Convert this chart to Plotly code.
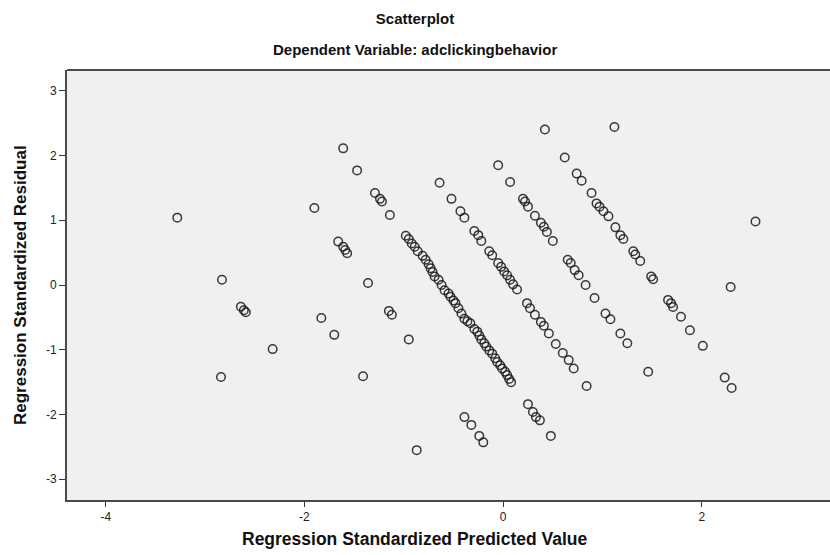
import plotly.graph_objects as go

# Regression standardized predicted values (x) and standardized residuals (y)
pred = [
    -3.28, -2.83, -2.84, -2.64, -2.61, -2.59, -2.32,
    -1.90, -1.83, -1.70, -1.41, -1.36,
    -1.66, -1.61, -1.59, -1.57,
    -1.61, -1.47, -1.29, -1.24, -1.22, -1.14,
    -0.98, -0.95, -0.92, -0.89, -0.86, -0.81, -0.78, -0.75, -0.73, -0.71, -0.69,
    -0.65, -0.62, -0.59, -0.55, -0.53, -0.50, -0.48, -0.45, -0.42, -0.39, -0.36, -0.33,
    -0.29, -0.26, -0.24, -0.22, -0.19, -0.17, -0.14, -0.11, -0.08, -0.06, -0.03, -0.01,
    0.02, 0.04, 0.06, 0.08,
    -1.15, -1.12, -0.95, -0.87,
    -0.39, -0.32, -0.24, -0.20,
    -0.64, -0.52, -0.43, -0.39, -0.29, -0.25, -0.22, -0.14, -0.11,
    -0.05, -0.02, 0.01, 0.04, 0.07, 0.10, 0.14,
    0.24, 0.27, 0.32, 0.38, 0.41, 0.46, 0.53, 0.60, 0.66, 0.71, 0.84,
    0.25, 0.30, 0.33, 0.37, 0.48,
    -0.05, 0.07, 0.20, 0.22, 0.25, 0.32, 0.38, 0.41, 0.44, 0.50,
    0.65, 0.68, 0.72, 0.76, 0.83, 0.92, 1.03, 1.08, 1.18, 1.25, 1.46,
    0.42, 0.62, 0.74, 0.79, 0.89, 0.94, 0.97, 1.01, 1.06, 1.13, 1.18, 1.21,
    1.31, 1.33, 1.38, 1.49, 1.51, 1.66, 1.69, 1.71, 1.79, 1.88, 2.01, 2.23, 2.30,
    1.12, 2.29, 2.54,
]
resid = [
    1.04, 0.08, -1.42, -0.335, -0.39, -0.42, -0.99,
    1.19, -0.51, -0.77, -1.41, 0.03,
    0.67, 0.59, 0.54, 0.49,
    2.11, 1.77, 1.42, 1.33, 1.29, 1.08,
    0.76, 0.71, 0.64, 0.59, 0.52, 0.45, 0.39, 0.32, 0.26, 0.20, 0.13,
    0.08, 0.00, -0.08, -0.13, -0.18, -0.24, -0.28, -0.36, -0.44, -0.52, -0.56, -0.59,
    -0.68, -0.72, -0.78, -0.84, -0.90, -0.95, -1.01, -1.06, -1.13, -1.19, -1.24, -1.29,
    -1.34, -1.39, -1.45, -1.50,
    -0.40, -0.46, -0.84, -2.55,
    -2.04, -2.16, -2.33, -2.43,
    1.58, 1.33, 1.14, 1.04, 0.835, 0.77, 0.68, 0.52, 0.46,
    0.34, 0.28, 0.21, 0.15, 0.08, 0.01, -0.07,
    -0.28, -0.36, -0.46, -0.57, -0.63, -0.75, -0.91, -1.05, -1.16, -1.29, -1.56,
    -1.84, -1.96, -2.04, -2.09, -2.33,
    1.85, 1.59, 1.33, 1.29, 1.21, 1.07, 0.96, 0.90, 0.82, 0.68,
    0.39, 0.34, 0.23, 0.15, 0.00, -0.20, -0.44, -0.53, -0.75, -0.90, -1.34,
    2.40, 1.97, 1.72, 1.61, 1.42, 1.26, 1.21, 1.14, 1.06, 0.89, 0.77, 0.71,
    0.52, 0.47, 0.37, 0.13, 0.09, -0.23, -0.28, -0.34, -0.49, -0.70, -0.94, -1.43, -1.59,
    2.44, -0.03, 0.98,
]

x_ticks = [-4, -2, 0, 2]
y_ticks = [-3, -2, -1, 0, 1, 2, 3]

FONT = "Liberation Sans, Arial, sans-serif"
AXIS_COLOR = "#4a4a4a"

W, H = 830, 555
L, R, T, B = 67, 0, 70, 55
PW, PH = W - L - R, H - T - B

fig = go.Figure(
    go.Scatter(
        x=pred,
        y=resid,
        mode="markers",
        marker=dict(
            symbol="circle-open",
            size=8.5,
            color="rgba(25,25,25,0.85)",
            line=dict(width=1.5),
        ),
        hoverinfo="x+y",
        showlegend=False,
    )
)

fig.update_layout(
    width=W,
    height=H,
    margin=dict(l=L, r=R, t=T, b=B),
    paper_bgcolor="white",
    plot_bgcolor="#f0f0f0",
    font=dict(family=FONT, color="#222222"),
    title=dict(
        text="<b>Scatterplot</b>",
        x=0.5,
        xref="container",
        xanchor="center",
        y=1 - 19 / H,
        yref="container",
        yanchor="middle",
        font=dict(size=15, family=FONT, color="#111111"),
    ),
    annotations=[
        dict(
            text="<b>Dependent Variable: adclickingbehavior</b>",
            xref="paper", yref="paper",
            x=(415 - L) / PW, y=1 + (T - 50) / PH,
            xanchor="center", yanchor="middle",
            showarrow=False,
            font=dict(size=15, family=FONT, color="#111111"),
        ),
        dict(
            text="<b>Regression Standardized Predicted Value</b>",
            xref="paper", yref="paper",
            x=(415 - L) / PW, y=-(539 - (T + PH)) / PH,
            xanchor="center", yanchor="middle",
            showarrow=False,
            font=dict(size=17.5, family=FONT, color="#111111"),
        ),
        dict(
            text="<b>Regression Standardized Residual</b>",
            xref="paper", yref="paper",
            x=(20 - L) / PW, y=0.5,
            xanchor="center", yanchor="middle",
            textangle=-90,
            showarrow=False,
            font=dict(size=17, family=FONT, color="#111111"),
        ),
    ],
    shapes=[
        dict(type="line", xref="paper", yref="paper",
             x0=0, x1=1, y0=1, y1=1,
             line=dict(color=AXIS_COLOR, width=2)),
    ],
)

fig.update_xaxes(
    range=[-4.39, 3.29],
    tickvals=x_ticks,
    ticktext=[str(v) for v in x_ticks],
    ticks="outside",
    ticklen=5,
    tickwidth=1,
    tickcolor="#333333",
    showline=True,
    linecolor=AXIS_COLOR,
    linewidth=2,
    showgrid=False,
    zeroline=False,
    tickfont=dict(size=12, color="#222222"),
)
fig.update_yaxes(
    range=[-3.32, 3.32],
    tickvals=y_ticks,
    ticktext=[str(v) for v in y_ticks],
    ticks="outside",
    ticklen=6,
    tickwidth=1,
    tickcolor="#333333",
    showline=True,
    linecolor=AXIS_COLOR,
    linewidth=2,
    showgrid=False,
    zeroline=False,
    tickfont=dict(size=12, color="#222222"),
)

fig.write_html(
    "out.html",
    config={"displayModeBar": False},
    post_script="document.body.style.margin='0';document.body.style.overflow='hidden';",
)
